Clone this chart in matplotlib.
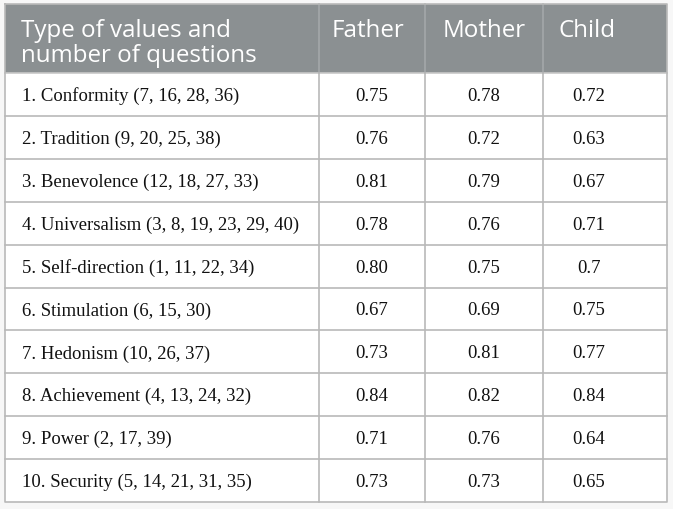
import matplotlib
matplotlib.use("Agg")
import matplotlib.pyplot as plt
from matplotlib.patches import Rectangle

header_first = ["Type of values and", "number of questions"]
columns = ["Father", "Mother", "Child"]
categories = [
    "1. Conformity (7, 16, 28, 36)",
    "2. Tradition (9, 20, 25, 38)",
    "3. Benevolence (12, 18, 27, 33)",
    "4. Universalism (3, 8, 19, 23, 29, 40)",
    "5. Self-direction (1, 11, 22, 34)",
    "6. Stimulation (6, 15, 30)",
    "7. Hedonism (10, 26, 37)",
    "8. Achievement (4, 13, 24, 32)",
    "9. Power (2, 17, 39)",
    "10. Security (5, 14, 21, 31, 35)",
]
father = ["0.75", "0.76", "0.81", "0.78", "0.80", "0.67", "0.73", "0.84", "0.71", "0.73"]
mother = ["0.78", "0.72", "0.79", "0.76", "0.75", "0.69", "0.81", "0.82", "0.76", "0.73"]
child = ["0.72", "0.63", "0.67", "0.71", "0.7", "0.75", "0.77", "0.84", "0.64", "0.65"]

W, H = 673, 510
fig = plt.figure(figsize=(W / 100, H / 100), dpi=100)
fig.patch.set_facecolor("#f7f7f7")
ax = fig.add_axes([0, 0, 1, 1])
ax.set_xlim(0, W)
ax.set_ylim(H, 0)
ax.axis("off")

left, right = 4.5, 666.5
top, header_bot, bottom = 4.5, 74, 503
col_x = [left, 319, 425, 543, right]
value_cx = [372, 484, 589]
header_x = [332, 443, 559]
n = len(categories)
row_h = (bottom - header_bot) / n
line_c = "#b9b9b9"
lw = 1.2

ax.add_patch(Rectangle((left, header_bot), right - left, bottom - header_bot,
                       facecolor="white", edgecolor="none", zorder=0))
ax.add_patch(Rectangle((left, top), right - left, header_bot - top,
                       facecolor="#8b9092", edgecolor="none", zorder=1))

hfont = dict(family=["Open Sans", "DejaVu Sans"], fontsize=17.4, color="white")
for k, line in enumerate(header_first):
    ax.text(21, 37 + k * 24.5, line, va="baseline", ha="left", zorder=3, **hfont)
for hx, name in zip(header_x, columns):
    ax.text(hx, 37, name, va="baseline", ha="left", zorder=3, **hfont)

bfont = dict(family=["Liberation Serif", "DejaVu Serif"], fontsize=13.5, color="#111111")
cols_vals = [father, mother, child]
for i, cat in enumerate(categories):
    cy = header_bot + (i + 0.5) * row_h + 1
    ax.text(22, cy, cat, va="center", ha="left", zorder=3, **bfont)
    for cx, vals in zip(value_cx, cols_vals):
        ax.text(cx, cy, vals[i], va="center", ha="center", zorder=3, **bfont)

for i in range(1, n):
    y = header_bot + i * row_h
    ax.plot([left, right], [y, y], color=line_c, lw=lw, zorder=2)
ax.plot([left, right], [header_bot, header_bot], color="#c8c8c8", lw=lw, zorder=2)
for x in col_x[1:-1]:
    ax.plot([x, x], [top, header_bot], color="#a4a8aa", lw=lw, zorder=2)
    ax.plot([x, x], [header_bot, bottom], color=line_c, lw=lw, zorder=2)
ax.plot([left, right, right, left, left], [top, top, bottom, bottom, top],
        color=line_c, lw=lw, zorder=2)

fig.savefig("out.png", dpi=100, facecolor=fig.get_facecolor())
